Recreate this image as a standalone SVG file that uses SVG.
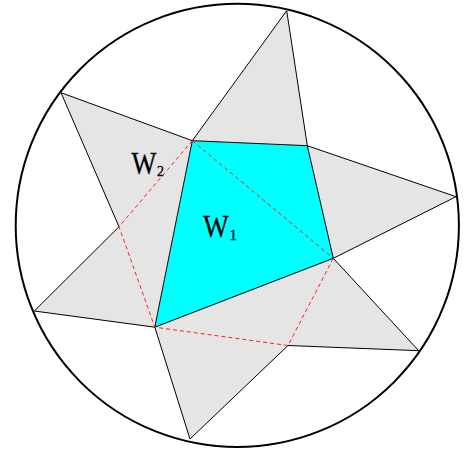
<svg xmlns="http://www.w3.org/2000/svg" width="466" height="450" viewBox="0 0 466 450">
<style>
.edge{fill:none;stroke:#000;stroke-width:1}
.dash{fill:none;stroke:#ff2020;stroke-width:1;stroke-dasharray:4,3}
.lbl{font-family:"Liberation Serif","Times New Roman",serif;fill:#000;stroke:#000;stroke-width:0.3}
</style>
<rect width="466" height="450" fill="#fff"/>
<g id="circle">
<circle cx="237.3" cy="225.4" r="221.6" fill="none" stroke="#000" stroke-width="2"/>
</g>
<g id="star">
<polygon class="edge" style="fill:#e5e5e5" points="61,92.7 192.3,140.7 286.7,10.7 307.3,145.7 456,196.7 333.3,258.3 418.7,350.7 288,345.5 190,439 154.8,327.2 34.3,311 119,226.7"/>
</g>
<g id="W1">
<polygon points="192.3,140.7 307.3,145.7 333.3,258.3 154.8,327.2" fill="#00ffff" stroke="#000" stroke-width="1"/>
<text class="lbl" x="203" y="236.7" font-size="31" transform="translate(203 0) scale(0.88 1) translate(-203 0)">W</text>
<text class="lbl" x="229.5" y="240" font-size="15">1</text>
</g>
<g id="W2">
<text class="lbl" x="131.5" y="174" font-size="31" transform="translate(131.5 0) scale(0.85 1) translate(-131.5 0)">W</text>
<text class="lbl" x="157" y="176" font-size="14">2</text>
</g>
<g id="connectors">
<polyline class="dash" points="192.3,140.7 119,226.7 154.8,327.2 288,345.5 333.3,258.3"/>
<line class="dash" x1="192.3" y1="140.7" x2="333.3" y2="258.3"/>
</g>
</svg>
